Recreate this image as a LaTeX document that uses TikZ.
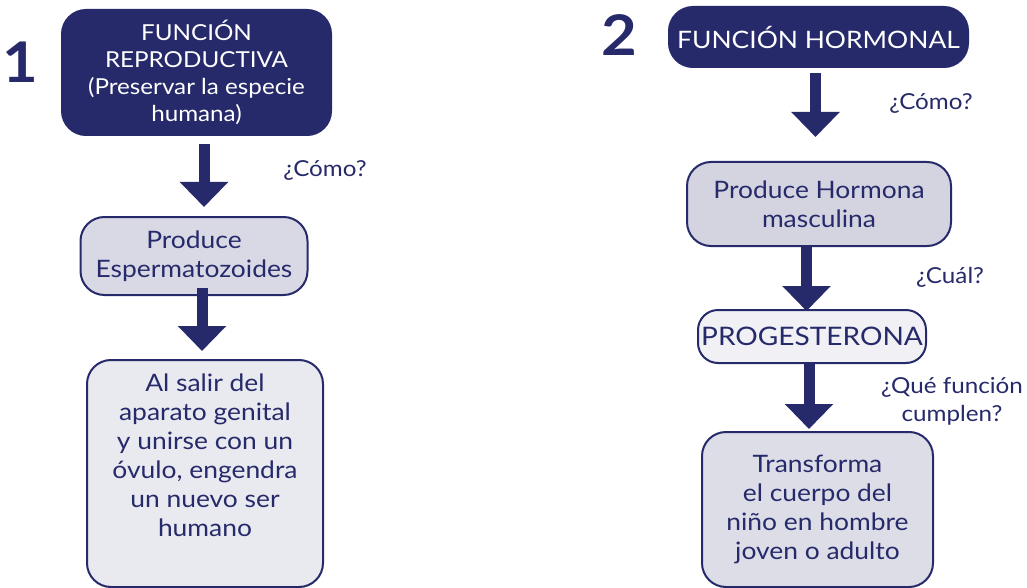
\documentclass[tikz,border=0pt]{standalone}
\usepackage{fontspec}
\setmainfont{Lato}[FakeStretch=1.1]
\usepackage{xcolor}
\usetikzlibrary{arrows.meta}
\definecolor{navy}{HTML}{262A6A}

\begin{document}
\begin{tikzpicture}[x=1pt, y=-1pt]
\tikzset{
  base/.style={draw=navy, line width=2pt, rounded corners=24pt, align=center, inner sep=0pt, text=navy},
  dark/.style={base, fill=navy, text=white, font=\fontsize{22}{27}\selectfont},
  light/.style={base, font=\fontsize{24}{29}\selectfont},
  ask/.style={text=navy, align=center, font=\fontsize{22}{28}\selectfont},
  num/.style={text=navy, inner sep=0pt, font=\fontsize{56}{56}\selectfont\bfseries},
  flow/.style={draw=navy, line width=11pt, -{Triangle[length=25pt, width=47pt]}},
}
\useasboundingbox (0,0) rectangle (1027,588);

% function 1
\node [num, anchor=west] (n1) at (2, 62) {1};
\node [dark, minimum width=269pt, minimum height=125pt] (fr) at (196.5, 72.5)
  {FUNCIÓN\\REPRODUCTIVA\\(Preservar la especie\\humana)};
\node [light, fill=navy!18, minimum width=227pt, minimum height=78pt] (pe) at (194, 256)
  {Produce\\Espermatozoides};
\node [light, fill=navy!10, minimum width=236pt, minimum height=227pt, text depth=37pt] (al) at (205, 473.5)
  {Al salir del\\aparato genital\\y unirse con un\\óvulo, engendra\\un nuevo ser\\humano};

\node [ask] (q1) at (325, 170) {¿Cómo?};

\draw [flow] ([xshift=7.5pt, yshift=-8pt]fr.south) -- ([xshift=10pt, yshift=9pt]pe.north);
\draw [flow] ([xshift=8pt, yshift=8pt]pe.south) -- ([xshift=-3pt, yshift=8pt]al.north);

% function 2
\node [num] (n2) at (619, 35) {2};
\node [dark, minimum width=299pt, minimum height=60pt, font=\fontsize{24}{29}\selectfont] (fh) at (818.5, 37)
  {FUNCIÓN HORMONAL};
\node [light, fill=navy!20, minimum width=264pt, minimum height=84pt] (ph) at (819, 204)
  {Produce Hormona\\masculina};
\node [light, fill=navy!7, minimum width=228pt, minimum height=53pt, rounded corners=20pt,
  font=\fontsize{25.5}{30}\selectfont] (pg) at (812, 336.5) {PROGESTERONA};
\node [light, fill=navy!16, minimum width=231pt, minimum height=155pt] (tr) at (817.5, 509.5)
  {Transforma\\el cuerpo del\\niño en hombre\\joven o adulto};

\node [ask] (q2) at (931, 103) {¿Cómo?};
\node [ask] (q3) at (950, 277) {¿Cuál?};
\node [ask] (q4) at (952, 401) {¿Qué función\\cumplen?};

\draw [flow] ([xshift=-3pt, yshift=-5pt]fh.south) -- ([xshift=-3.5pt, yshift=24pt]ph.north);
\draw [flow] ([xshift=-12.5pt]ph.south) -- ([xshift=-5.5pt, yshift=-2pt]pg.north);
\draw [flow] ([xshift=-3pt]pg.south) -- ([xshift=-8.5pt, yshift=2pt]tr.north);
\end{tikzpicture}
\end{document}
